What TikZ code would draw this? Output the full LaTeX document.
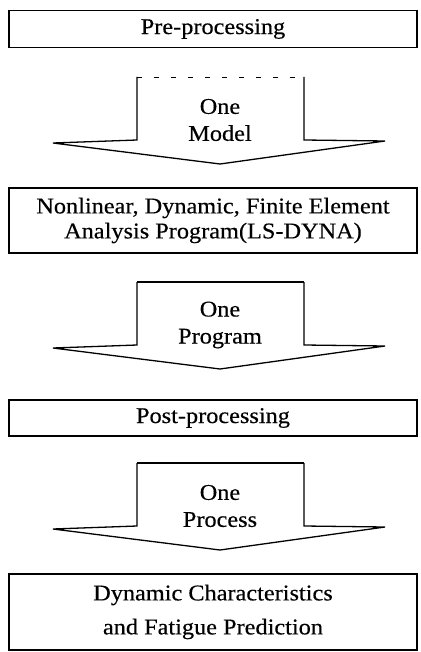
\documentclass[tikz,border=0pt]{standalone}
\usepackage{fontspec}
\setmainfont[FakeStretch=1.08, FakeBold=0.4]{Liberation Serif}
\usetikzlibrary{positioning}
\newcommand{\textsz}{\fontsize{22.5}{25}\selectfont}
\tikzstyle{stage}=[draw, line width=1.8pt, minimum width=408pt, inner sep=0, align=center, font=\textsz]
\tikzstyle{flow}=[line width=1.3pt, line join=miter]
\tikzstyle{flowtext}=[inner sep=0, align=center, font=\fontsize{22.5}{27}\selectfont]
% block arrow: #1 name, #2 top edge (y), #3 label, #4 style of top edge
\newcommand{\flowarrow}[4]{%
    \coordinate (#1tl) at (137, #2);
    \coordinate (#1tr) at (304, #2);
    \draw[flow] (#1tl) -- (137, {#2+63}) -- (53, {#2+66}) -- (220, {#2+87})
        -- (385, {#2+64}) -- (304, {#2+63}) -- (#1tr);
    \draw[flow, #4] (#1tl) -- (#1tr);
    \node[flowtext] (#1) at (220, {#2+43}) {#3};
}

\begin{document}
\begin{tikzpicture}[x=1pt, y=-1pt]
        \useasboundingbox (0, 0) rectangle (420, 652);
        \node[stage, minimum height=37pt] (pre) at (213, 29) {Pre-processing};
        \node[stage, minimum height=65pt] (fem) at (213, 220.5) {Nonlinear, Dynamic, Finite Element\\Analysis Program(LS-DYNA)};
        \node[stage, minimum height=36pt] (post) at (213, 418) {Post-processing};
        \node[stage, minimum height=76pt, font=\fontsize{22.5}{34}\selectfont] (result) at (213, 612) {Dynamic Characteristics\\and Fatigue Prediction};
        \flowarrow{model}{77}{One\\Model}{line width=0.7pt, dash pattern=on 5pt off 12pt}
        \flowarrow{program}{282}{One\\Program}{}
        \flowarrow{process}{463}{One\\Process}{}
    \end{tikzpicture}
\end{document}
